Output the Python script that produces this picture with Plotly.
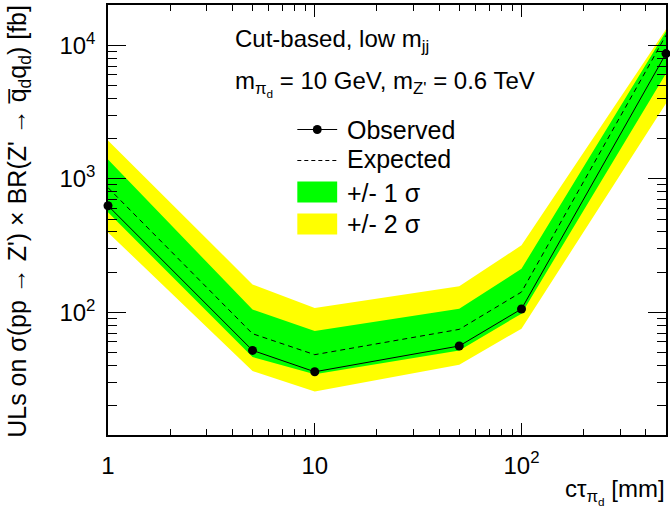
import plotly.graph_objects as go

# Proper lifetime of the dark pion [mm]
ctau = [1, 5, 10, 50, 100, 500]

# Upper limits on sigma x BR [fb]
observed = [629, 51.9, 35.9, 56.0, 106, 8670]
expected = [859, 69.2, 48.2, 74.6, 142, 11900]
minus2 = [397, 36.3, 25.5, 40.6, 75.5, 3660]
minus1 = [561, 46.3, 34.4, 51.9, 97.8, 6140]
plus1 = [1393, 105, 72.4, 106.6, 212, 12700]
plus2 = [1940, 162, 108, 157, 318, 13200]

x_major = [1, 10, 100]
x_major_text = ["1", "10", "10<sup>2</sup>"]
x_minor = [2, 3, 4, 5, 6, 7, 8, 9, 20, 30, 40, 50, 60, 70, 80, 90, 200, 300, 400]
y_major = [100, 1000, 10000]
y_major_text = ["10<sup>2</sup>", "10<sup>3</sup>", "10<sup>4</sup>"]
y_minor = [20, 30, 40, 50, 60, 70, 80, 90,
           200, 300, 400, 500, 600, 700, 800, 900,
           2000, 3000, 4000, 5000, 6000, 7000, 8000, 9000]

W, H = 670, 515
ML, MR, MT, MB = 108, 2, 5, 80
PW, PH = W - ML - MR, H - MT - MB
FONT = "Liberation Sans, Arial, Helvetica, sans-serif"
GREEN = "#00ff00"
YELLOW = "#ffff00"


def px(x):
    return (x - ML) / PW


def py(y):
    return (H - MB - y) / PH


fig = go.Figure()

# +/- 2 sigma band
fig.add_trace(go.Scatter(
    x=ctau + ctau[::-1], y=plus2 + minus2[::-1],
    fill="toself", fillcolor=YELLOW, line=dict(width=0),
    mode="lines", hoverinfo="skip", showlegend=False))
# +/- 1 sigma band
fig.add_trace(go.Scatter(
    x=ctau + ctau[::-1], y=plus1 + minus1[::-1],
    fill="toself", fillcolor=GREEN, line=dict(width=0),
    mode="lines", hoverinfo="skip", showlegend=False))
# expected limit
fig.add_trace(go.Scatter(
    x=ctau, y=expected, mode="lines",
    line=dict(color="black", width=1, dash="5px,4px"), showlegend=False))
# observed limit
fig.add_trace(go.Scatter(
    x=ctau, y=observed, mode="lines+markers",
    line=dict(color="black", width=1),
    marker=dict(color="black", size=9), cliponaxis=False, showlegend=False))

axis_common = dict(
    type="log", showgrid=False, zeroline=False,
    showline=True, linecolor="black", linewidth=1.5, mirror="ticks",
    ticks="inside", tickcolor="black", tickwidth=1,
    tickmode="array", tickfont=dict(family=FONT, size=24, color="black"),
)

fig.update_xaxes(
    **axis_common, range=[0, 2.699], tickvals=x_major, ticktext=x_major_text,
    ticklen=12, ticklabelstandoff=8,
    minor=dict(ticks="inside", ticklen=6, tickcolor="black", tickwidth=1,
               tickmode="array", tickvals=x_minor, showgrid=False),
)
fig.update_yaxes(
    **axis_common, range=[1.0815, 4.302], tickvals=y_major, ticktext=y_major_text,
    ticklen=18, ticklabelstandoff=6,
    minor=dict(ticks="inside", ticklen=9, tickcolor="black", tickwidth=1,
               tickmode="array", tickvals=y_minor, showgrid=False),
)

annotations = [
    dict(text="ULs on σ(pp → Z') × BR(Z' → q\u0305<sub>d</sub>q<sub>d</sub>) [fb]",
         x=px(19), y=py(3), xanchor="center", yanchor="top", textangle=-90,
         font=dict(size=25)),
    dict(text="cτ<sub>π<sub>d</sub></sub> [mm]",
         x=px(669), y=py(492), xanchor="right", yanchor="middle",
         font=dict(size=24)),
    dict(text="Cut-based, low m<sub>jj</sub>",
         x=px(233), y=py(41), xanchor="left", yanchor="middle",
         font=dict(size=24)),
    dict(text="m<sub>π<sub>d</sub></sub> = 10 GeV, m<sub>Z'</sub> = 0.6 TeV",
         x=px(233), y=py(84), xanchor="left", yanchor="middle",
         font=dict(size=24)),
]

# legend drawn in the free space of the frame
legend_rows = [("Observed", 129.5), ("Expected", 158.5), ("+/- 1 σ", 192.5), ("+/- 2 σ", 224)]
for label, yc in legend_rows:
    annotations.append(dict(text=label, x=px(346), y=py(yc), xanchor="left",
                            yanchor="middle", font=dict(size=25)))

for a in annotations:
    a.update(xref="paper", yref="paper", showarrow=False)
    a["font"].update(family=FONT, color="black")

shapes = [
    dict(type="line", x0=px(298), x1=px(338), y0=py(129.5), y1=py(129.5),
         line=dict(color="black", width=1)),
    dict(type="circle", x0=px(313.5), x1=px(322.5), y0=py(134), y1=py(125),
         fillcolor="black", line=dict(width=0)),
    dict(type="line", x0=px(298), x1=px(338), y0=py(160.5), y1=py(160.5),
         line=dict(color="black", width=1, dash="4px,3px")),
    dict(type="rect", x0=px(298), x1=px(338), y0=py(202.5), y1=py(181.5),
         fillcolor=GREEN, line=dict(width=0)),
    dict(type="rect", x0=px(298), x1=px(338), y0=py(234.5), y1=py(213.5),
         fillcolor=YELLOW, line=dict(width=0)),
]
for s in shapes:
    s.update(xref="paper", yref="paper", layer="above")

fig.update_layout(
    width=W, height=H,
    margin=dict(l=ML, r=MR, t=MT, b=MB),
    paper_bgcolor="white", plot_bgcolor="white",
    font=dict(family=FONT, color="black"),
    annotations=annotations, shapes=shapes,
    showlegend=False,
)

fig.write_html("out.html")
